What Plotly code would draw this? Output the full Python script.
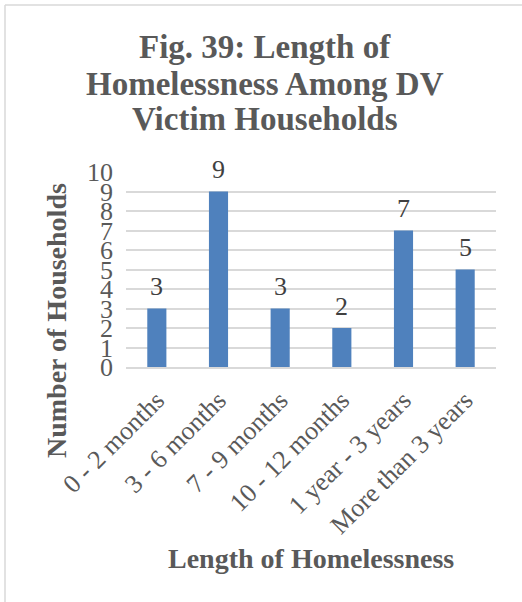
import plotly.graph_objects as go

categories = ["0 - 2 months", "3 - 6 months", "7 - 9 months", "10 - 12 months",
              "1 year - 3 years", "More than 3 years"]
households = [3, 9, 3, 2, 7, 5]
y_ticks = [0, 1, 2, 3, 4, 5, 6, 7, 8, 9, 10]
title_lines = ["Fig. 39: Length of", "Homelessness Among DV", "Victim Households"]
x_title = "Length of Homelessness"
y_title = "Number of Households"

W, H = 522, 602
L, R, T, B = 126, 26, 172, 235
PW, PH = W - L - R, H - T - B

def px_x(px):
    return (px - L) / PW

def px_y(py):
    return (H - B - py) / PH

SERIF = "Liberation Serif"
GREY = "#595959"

fig = go.Figure(go.Bar(
    x=categories, y=households,
    marker=dict(color="#4F81BD", line=dict(width=0)),
    hoverinfo="skip",
))

annotations = []
for cat, v in zip(categories, households):
    annotations.append(dict(x=cat, y=v, xref="x", yref="y", text=str(v),
                            showarrow=False, yanchor="middle", yshift=22,
                            font=dict(family=SERIF, size=26, color="#404040")))

title_y = [47, 84, 119]
for line, yy in zip(title_lines, title_y):
    annotations.append(dict(x=px_x(265), y=px_y(yy), xref="paper", yref="paper",
                            text="<b>" + line + "</b>", showarrow=False,
                            xanchor="center", yanchor="middle",
                            font=dict(family=SERIF, size=33, color=GREY)))

annotations.append(dict(x=px_x(311), y=px_y(558), xref="paper", yref="paper",
                        text="<b>" + x_title + "</b>", showarrow=False,
                        xanchor="center", yanchor="middle",
                        font=dict(family=SERIF, size=28, color=GREY)))
annotations.append(dict(x=px_x(56), y=px_y(321), xref="paper", yref="paper",
                        text="<b>" + y_title + "</b>", showarrow=False,
                        textangle=-90, xanchor="center", yanchor="middle",
                        font=dict(family=SERIF, size=28, color=GREY)))

shapes = [
    dict(type="line", xref="paper", yref="paper", x0=px_x(5), x1=px_x(W), y0=px_y(5), y1=px_y(5),
         line=dict(color="#D9D9D9", width=1.5)),
    dict(type="line", xref="paper", yref="paper", x0=px_x(5), x1=px_x(5), y0=px_y(5), y1=px_y(H),
         line=dict(color="#D9D9D9", width=1.5)),
]

fig.update_layout(
    width=W, height=H,
    margin=dict(l=L, r=R, t=T, b=B, pad=0),
    paper_bgcolor="white", plot_bgcolor="white",
    bargap=0.69,
    showlegend=False,
    annotations=annotations,
    shapes=shapes,
    font=dict(family=SERIF, color=GREY),
)
fig.update_xaxes(
    tickangle=-45, ticks="", showgrid=False, showline=True,
    linecolor="#D9D9D9", linewidth=1.5,
    tickfont=dict(family=SERIF, size=26, color=GREY),
    ticklabelstandoff=6,
)
fig.update_yaxes(
    range=[0, 10], tickvals=y_ticks, ticks="", showgrid=True,
    gridcolor="#D9D9D9", gridwidth=1.5, zeroline=False, showline=False,
    tickfont=dict(family=SERIF, size=26, color=GREY),
    ticklabelstandoff=12,
)

fig.write_html("out.html", config={"displayModeBar": False},
               post_script="document.body.style.margin='0';document.body.style.overflow='hidden';")
